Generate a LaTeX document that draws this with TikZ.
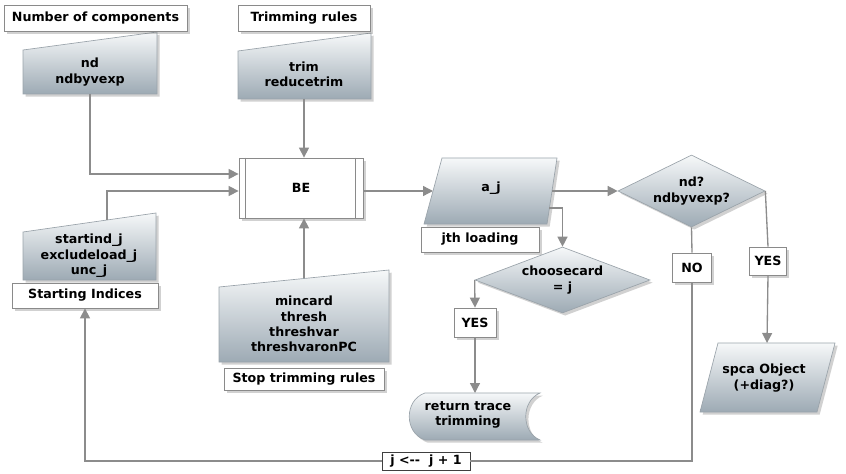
\documentclass[tikz,border=0pt]{standalone}
\usepackage{fontspec}
\setmainfont{DejaVu Sans}
\usetikzlibrary{shapes.geometric,arrows.meta,shadows}
\definecolor{shadetop}{HTML}{F6F8F9}
\definecolor{shadebot}{HTML}{9DAAB4}
\definecolor{edgegray}{HTML}{9AA3AA}
\definecolor{boxgray}{HTML}{8A8A8A}
\definecolor{linegray}{HTML}{8C8C8C}
\newcommand{\px}{0.75pt}

\begin{document}
\begin{tikzpicture}[x=0.75pt,y=-0.75pt,
    font=\fontsize{9.5}{11.5}\selectfont\bfseries,
    every node/.style={align=center, inner sep=0pt},
    softshadow/.style={drop shadow={shadow xshift=2pt, shadow yshift=-2pt, opacity=0.3, fill=black!60}},
    lab/.style={draw=boxgray, fill=white, line width=0.6pt, softshadow},
    shaded/.style={draw=edgegray, line width=0.5pt, top color=shadetop, bottom color=shadebot, softshadow},
    conn/.style={draw=linegray, line width=1pt},
    arr/.style={conn, -{Triangle[length=7.5pt,width=7.5pt]}}]
    \useasboundingbox (0,0) rectangle (846,474);

    % manual inputs
    \path[shaded] (23,50) -- (157,32) -- (157,94) -- (23,94) -- cycle;
    \path[shaded] (238,51) -- (371,33) -- (371,99) -- (238,99) -- cycle;
    \path[shaded] (23,232) -- (156,213) -- (156,280) -- (23,280) -- cycle;
    \path[shaded] (219,287) -- (389,270) -- (389,362) -- (219,362) -- cycle;
    \node (ndtxt) at (90,72) {nd\\ndbyvexp};
    \node (trimtxt) at (304,74) {trim\\reducetrim};
    \node (starttxt) at (89,256) {startind\_j\\excludeload\_j\\unc\_j};
    \node (stoptxt) at (304,324) {mincard\\thresh\\threshvar\\threshvaronPC};
    \coordinate (ndin-s) at (90,94);
    \coordinate (trimin-s) at (304,99);
    \coordinate (startin-n) at (107,220);
    \coordinate (stopin-n) at (304,278);

    % labels
    \node[lab, minimum width=183*\px, minimum height=26*\px] (ncomp) at (95.5,18) {Number of components};
    \node[lab, minimum width=132*\px, minimum height=26*\px] (trimlab) at (304,18) {Trimming rules};
    \node[lab, minimum width=146*\px, minimum height=25*\px] (startlab) at (85,295.5) {Starting Indices};
    \node[lab, minimum width=160*\px, minimum height=22*\px] (stoplab) at (304,379) {Stop trimming rules};

    % predefined process
    \node[lab, minimum width=124*\px, minimum height=60*\px] (be) at (301,188) {BE};
    \draw[boxgray, line width=0.5pt] ([xshift=7*\px]be.north west) -- ([xshift=7*\px]be.south west);
    \draw[boxgray, line width=0.5pt] ([xshift=-8*\px]be.north east) -- ([xshift=-8*\px]be.south east);

    % a_j
    \path[shaded] (442,158) -- (557,158) -- (547,224) -- (424,224) -- cycle;
    \node (aj) at (491,188) {a\_j};
    \coordinate (aj-w) at (433,191);
    \coordinate (aj-e) at (552,191);
    \coordinate (aj-se) at (549,208);
    \node[lab, minimum width=118*\px, minimum height=25*\px] (jthlab) at (480,239.5) {jth loading};

    % decisions
    \node[diamond, shaded, aspect=2, minimum width=147*\px, minimum height=72*\px] (ndq) at (691.5,191) {nd?\\ndbyvexp?};
    \node[diamond, shaded, aspect=2.65, minimum width=175*\px, minimum height=66*\px] (choose) at (562.5,280) {choosecard\\= j};

    % outputs
    \path[shaded] (718,343) -- (835,343) -- (817,412) -- (700,412) -- cycle;
    \node (spca) at (764,378) {spca Object\\(+diag?)};
    \coordinate (spca-n) at (767,343);
    \path[shaded] (425,393) -- (540,393) .. controls (521,401) and (521,432) .. (540,440)
        -- (425,440) .. controls (404,433) and (404,400) .. (425,393) -- cycle;
    \node (trace) at (468,415) {return trace\\trimming};
    \coordinate (trace-n) at (475,393);

    % yes / no
    \node[lab, minimum width=42*\px, minimum height=29*\px] (yes1) at (475,322.5) {YES};
    \node[lab, minimum width=39*\px, minimum height=29*\px] (nolab) at (692,267.5) {NO};
    \node[lab, minimum width=37*\px, minimum height=28*\px] (yes2) at (768,261) {YES};
    \node[draw=black!75, fill=white, line width=0.5pt, minimum width=88*\px, minimum height=18*\px] (incr) at (426,461) {j <-{}-~ j + 1};

    % connectors
    \draw[arr] (ndin-s) |- ([yshift=14*\px]be.west);
    \draw[arr] (startin-n) |- ([yshift=-3*\px]be.west);
    \draw[arr] (trimin-s) -- (trimin-s |- be.north);
    \draw[arr] (stopin-n) -- (stopin-n |- be.south);
    \draw[arr] ([yshift=-3*\px]be.east) -- (aj-w);
    \draw[arr] (aj-e) -- (ndq.west);
    \draw[arr] (aj-se) -| (choose.north);
    \draw[arr] (choose.west) -- (yes1.north);
    \draw[arr] (yes1.south) -- (trace-n);
    \draw[conn] (ndq.south) -- (nolab.north);
    \draw[conn] (nolab.south) |- (incr.east);
    \draw[arr] (incr.west) -| (startlab.south);
    \draw[conn] (ndq.east) -- (yes2.north);
    \draw[arr] (yes2.south) -- (spca-n);
\end{tikzpicture}
\end{document}
